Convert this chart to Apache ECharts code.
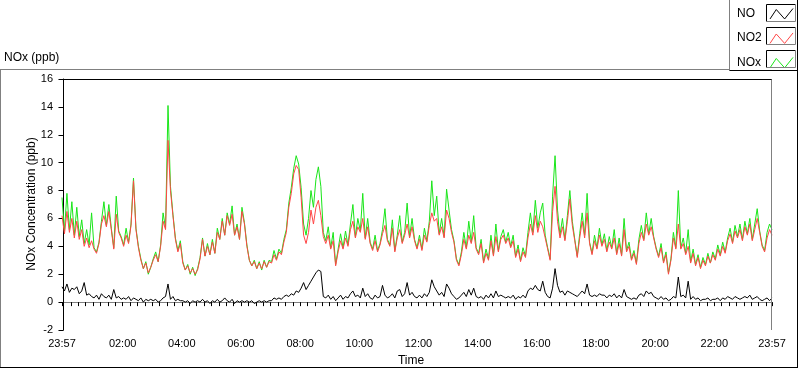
<!DOCTYPE html>
<html><head><meta charset="utf-8">
<script src="https://cdn.jsdelivr.net/npm/echarts@6/dist/echarts.min.js"></script>
<style>html,body{margin:0;padding:0;background:#fff}#c{width:800px;height:369px}</style>
</head><body><div id="c"></div>
<script>
// Time axis: minutes relative to midnight; first sample at 23:57 of previous day
const startMinute = -3;
const stepMinutes = 5;
const axisMin = -3, axisMax = 1437;
const labelMinutes = [-3, 120, 240, 360, 480, 600, 720, 840, 960, 1080, 1200, 1320, 1437];
const seriesNames = ['NO', 'NO2', 'NOx'];
const yAxisTitle = 'NOx Concentration (ppb)';
const xAxisTitle = 'Time';

const no = [
 1.1,0.8,1.3,0.7,1.0,0.9,1.1,0.6,0.8,1.4,0.5,0.6,0.4,
 0.3,0.5,0.2,0.6,0.4,0.3,0.5,0.2,0.9,0.3,0.4,0.2,
 0.3,0.2,0.4,0.1,0.3,0.2,0.1,0.3,0.0,0.2,0.1,0.2,
 0.1,0.2,0.0,0.1,0.3,0.4,1.3,0.2,0.4,0.1,0.2,0.1,
 0.1,0.0,0.1,-0.1,0.1,0.0,0.1,0.0,0.2,0.0,0.1,-0.1,
 0.1,0.0,0.2,0.0,0.1,0.3,0.1,0.0,0.2,-0.1,0.1,0.0,
 0.1,0.0,0.1,0.0,0.1,-0.1,0.0,0.1,0.0,0.1,0.0,0.1,
 0.1,0.3,0.2,0.3,0.2,0.4,0.5,0.4,0.6,0.5,0.8,0.7,
 1.0,1.4,0.9,1.2,1.5,1.8,2.1,2.3,2.2,0.4,0.3,0.5,
 0.2,0.4,0.1,0.3,0.5,0.2,0.4,0.3,0.6,0.8,0.4,0.5,
 0.3,1.0,0.4,0.6,0.3,0.2,0.5,0.3,0.4,1.2,0.5,0.3,
 0.4,0.6,0.3,0.8,0.9,0.4,0.6,1.4,0.5,0.7,0.4,0.3,
 0.5,0.3,0.6,0.4,0.7,1.6,1.1,0.8,0.5,0.7,0.4,1.3,
 1.0,0.6,0.4,0.2,0.3,0.5,0.7,0.4,0.9,0.5,1.0,0.4,
 0.3,0.4,0.2,0.5,0.3,0.6,0.3,0.8,0.4,0.5,0.4,0.3,
 0.4,0.3,0.5,0.2,0.4,0.3,0.5,0.3,0.8,1.0,0.9,1.2,
 0.9,0.8,1.5,0.7,0.4,0.3,1.0,2.4,1.2,0.7,0.8,0.5,
 0.8,0.7,0.6,0.5,0.4,0.6,0.8,0.6,1.3,0.5,0.4,0.5,
 0.4,0.6,0.5,0.5,0.3,0.5,0.4,0.6,0.3,0.5,0.3,0.9,
 0.4,0.3,0.2,0.3,0.2,0.5,0.6,0.4,0.8,0.6,0.7,0.4,
 0.3,0.2,0.4,0.2,0.3,0.1,0.2,0.4,0.3,1.8,0.4,0.5,
 0.3,1.5,0.2,0.4,0.2,0.3,0.1,0.2,0.2,0.3,0.1,0.2,
 0.2,0.3,0.1,0.3,0.2,0.4,0.3,0.2,0.4,0.3,0.2,0.3,
 0.4,0.3,0.5,0.2,0.3,0.4,0.2,0.1,0.2,0.3,0.1,0.3
];

const no2 = [
 6.2,4.9,6.5,5.0,6.0,4.6,5.8,4.5,5.2,4.0,4.6,3.9,4.4,
 3.8,3.5,4.2,5.6,6.2,5.4,6.5,5.2,3.8,6.3,5.0,4.6,
 4.0,4.8,4.2,5.5,8.7,5.2,3.9,3.0,2.4,2.8,2.1,2.5,
 3.0,3.4,2.9,4.0,5.8,5.2,11.6,8.0,6.2,4.5,3.6,4.2,
 2.8,2.3,2.6,2.1,2.4,2.0,2.3,3.1,4.5,3.3,4.0,3.4,
 4.3,3.5,5.0,4.5,5.8,4.8,6.2,5.5,6.3,4.8,5.4,4.5,
 6.5,5.6,4.0,3.0,2.6,2.9,2.4,2.8,2.4,2.9,2.5,2.9,
 2.8,3.4,3.0,3.6,3.4,4.3,5.0,6.8,7.8,9.2,9.8,9.5,
 7.5,4.8,4.2,5.0,6.6,5.6,6.8,7.3,6.2,4.7,4.2,4.8,
 3.8,4.4,2.6,3.6,4.4,3.8,4.6,4.0,5.2,5.8,4.6,5.4,
 5.0,6.0,4.5,5.4,4.2,3.7,4.4,3.6,4.1,4.9,5.5,4.4,
 4.0,5.3,3.6,4.6,5.2,4.2,4.8,5.6,4.6,5.4,4.4,3.8,
 4.5,3.7,4.8,4.3,5.5,6.4,5.8,6.0,4.8,5.4,4.6,6.6,
 6.0,5.0,4.3,3.0,2.6,3.4,4.5,3.8,4.8,4.2,5.0,3.8,
 3.4,4.2,2.8,3.5,3.0,4.4,3.3,4.7,3.6,4.5,4.8,4.2,
 4.6,3.9,4.4,3.2,3.8,2.9,3.6,3.2,4.6,5.6,4.8,6.2,
 5.0,5.8,5.4,4.6,3.8,3.0,6.5,8.3,5.8,4.6,5.4,4.4,
 5.8,7.4,5.5,4.4,3.2,4.6,5.8,4.6,6.4,4.2,3.4,4.4,
 3.8,4.8,4.0,4.5,3.6,4.3,3.8,4.6,3.4,4.2,3.3,5.2,
 3.6,4.0,3.0,3.5,2.7,4.2,5.0,4.4,5.6,4.8,5.4,4.6,
 3.8,3.2,3.9,2.8,3.4,2.0,3.0,4.6,3.8,5.6,3.8,4.2,
 3.4,4.0,2.8,3.5,2.6,3.2,2.4,3.0,2.6,3.3,2.8,3.4,
 3.0,3.8,3.3,4.0,3.5,4.4,4.9,4.2,5.1,4.6,5.2,4.4,
 5.4,4.8,5.6,4.4,5.2,6.0,5.0,4.0,3.6,4.6,5.2,4.8
];

const nox = [
 7.5,5.1,7.8,5.2,7.2,4.8,6.8,4.7,5.9,4.2,5.2,4.1,6.4,
 3.9,3.6,4.3,5.8,7.2,5.5,7.0,5.3,3.9,7.6,5.1,4.7,
 4.1,5.3,4.3,5.6,8.9,5.3,4.0,3.1,2.4,2.9,2.0,2.5,
 3.1,3.6,2.9,4.1,6.4,5.3,14.1,8.3,6.3,4.6,3.7,4.4,
 2.9,2.3,2.7,2.0,2.5,1.9,2.4,3.2,4.6,3.3,4.2,3.4,
 4.5,3.5,5.3,4.5,6.0,4.8,6.4,5.6,6.9,4.8,5.6,4.5,
 6.8,5.7,4.1,3.0,2.6,3.0,2.4,2.9,2.3,3.0,2.5,3.0,
 2.9,3.7,3.1,3.8,3.5,4.5,5.2,7.1,8.2,9.6,10.5,9.9,
 8.2,5.6,4.8,6.0,8.0,6.8,8.8,9.7,8.3,5.0,4.4,5.4,
 3.9,5.0,2.7,3.8,4.9,3.9,5.1,4.1,5.6,7.0,4.7,6.0,
 5.1,7.8,4.6,6.0,4.3,3.8,4.8,3.7,4.2,5.2,6.7,4.5,
 4.1,5.9,3.7,4.8,6.2,4.3,5.0,7.1,4.7,6.0,4.5,3.9,
 4.8,3.8,5.3,4.4,5.8,8.7,6.2,7.6,4.9,6.0,4.7,8.1,
 6.6,5.2,4.4,3.1,2.7,3.6,5.0,3.9,5.8,4.3,6.2,3.9,
 3.5,4.5,2.9,3.8,3.1,4.8,3.4,5.6,3.7,4.7,5.2,4.3,
 5.0,4.0,4.8,3.3,4.1,3.0,3.9,3.3,5.0,6.4,5.0,7.3,
 5.3,6.4,7.1,4.8,3.9,3.1,7.6,10.5,6.6,4.8,6.0,4.5,
 6.2,8.0,5.8,4.5,3.3,4.9,6.4,4.8,7.8,4.3,3.5,4.8,
 3.9,5.3,4.1,4.9,3.7,4.7,3.9,5.2,3.5,4.6,3.4,6.0,
 3.7,4.3,3.1,3.7,2.8,4.5,5.5,4.5,6.4,4.9,6.0,4.7,
 3.9,3.3,4.2,2.9,3.6,2.1,3.1,5.0,3.9,8.0,3.9,4.6,
 3.5,5.2,2.9,3.8,2.7,3.4,2.5,3.2,2.7,3.5,2.8,3.6,
 3.1,4.1,3.4,4.3,3.6,4.6,5.3,4.3,5.5,4.7,5.6,4.5,
 5.8,4.9,6.0,4.5,5.6,6.7,5.1,4.1,3.7,5.0,5.6,5.2
];

const FONT = '"Liberation Sans", Arial, sans-serif';
function toPairs(arr) { return arr.map((v, i) => [startMinute + i * stepMinutes, v]); }
function fmtTime(v) {
  const m = ((Math.round(v) % 1440) + 1440) % 1440;
  const h = Math.floor(m / 60), mm = m % 60;
  return String(h).padStart(2, '0') + ':' + String(mm).padStart(2, '0');
}
// minor tick positions: start, every 15 minutes, end
const tickMinutes = [axisMin];
for (let t = 0; t <= axisMax; t += 15) tickMinutes.push(t);
tickMinutes.push(axisMax);

const graphics = [];
function ln(x1, y1, x2, y2, c) {
  graphics.push({ type: 'line', silent: true, z: 100, shape: { x1, y1, x2, y2 }, style: { stroke: c, lineWidth: 1 } });
}
// outer panel frame
ln(0, 69.5, 730, 69.5, '#808080');
ln(0.5, 69.5, 0.5, 368, '#808080');
ln(0, 367.5, 798, 367.5, '#000');
ln(797.5, 0, 797.5, 368, '#000');
// legend panel
ln(729.5, 0, 729.5, 70.5, '#808080');
ln(729.5, 70.5, 798, 70.5, '#000');
// plot frame top / right
ln(62, 79.5, 772, 79.5, '#000');
ln(771.5, 79.5, 771.5, 330, '#808080');
// legend icon boxes
[13, 36, 59].forEach(c => {
  graphics.push({ type: 'polyline', silent: true, z: 100, shape: { points: [[766.5, c + 8.5], [766.5, c - 8.5], [795.5, c - 8.5]] }, style: { stroke: '#000', fill: null, lineWidth: 1 } });
  graphics.push({ type: 'polyline', silent: true, z: 100, shape: { points: [[795.5, c - 8.5], [795.5, c + 8.5], [766.5, c + 8.5]] }, style: { stroke: '#808080', fill: null, lineWidth: 1 } });
});
// axis titles
graphics.push({ type: 'text', silent: true, z: 100, x: 32, y: 204, rotation: Math.PI / 2,
  style: { text: yAxisTitle, font: '12px ' + FONT, fill: '#000', align: 'center', verticalAlign: 'middle' } });
graphics.push({ type: 'text', silent: true, z: 100, x: 411, y: 361,
  style: { text: xAxisTitle, font: '12px ' + FONT, fill: '#000', align: 'center', verticalAlign: 'middle' } });

const colors = { NO: '#000000', NO2: '#ff4646', NOx: '#19e619' };
const chart = echarts.init(document.getElementById('c'), null, { renderer: 'canvas' });
chart.setOption({
  animation: false,
  backgroundColor: '#fff',
  title: { text: 'NOx (ppb)', left: 4, top: 52, padding: 0, textStyle: { fontFamily: FONT, fontSize: 12, fontWeight: 'normal', color: '#000' } },
  legend: {
    orient: 'vertical', left: 737, top: 6, padding: 0, align: 'right',
    itemWidth: 23, itemHeight: 11, itemGap: 9,
    icon: 'path://M0,10L6,1L14,10L22,0',
    data: seriesNames.map(n => ({ name: n, itemStyle: { color: 'none', borderColor: colors[n], borderWidth: 1 } })),
    formatter: n => '{a|' + n + '}',
    textStyle: { fontFamily: FONT, rich: { a: { width: 28, align: 'left', fontSize: 12, lineHeight: 14, color: '#000', fontFamily: FONT } } }
  },
  grid: { left: 62, top: 79, width: 710, height: 251, containLabel: false, outerBoundsMode: 'none' },
  xAxis: {
    type: 'value', min: axisMin, max: axisMax,
    axisLine: { show: true, lineStyle: { color: '#808080', width: 1 } },
    axisTick: { show: true, length: 4, customValues: tickMinutes, lineStyle: { color: '#000' } },
    axisLabel: { customValues: labelMinutes, formatter: fmtTime, margin: 8, fontFamily: FONT, fontSize: 11, color: '#000', hideOverlap: false, showMinLabel: true, showMaxLabel: true },
    splitLine: { show: false }
  },
  yAxis: {
    type: 'value', min: -2, max: 16, interval: 2,
    axisLine: { show: true, lineStyle: { color: '#000', width: 1 } },
    axisTick: { show: true, length: 5, lineStyle: { color: '#000' } },
    axisLabel: { margin: 9, fontFamily: FONT, fontSize: 11, color: '#000' },
    splitLine: { show: false }
  },
  series: [
    { name: 'NOx', type: 'line', data: toPairs(nox), symbol: 'none', lineStyle: { color: colors.NOx, width: 1 }, itemStyle: { color: colors.NOx }, z: 2 },
    { name: 'NO2', type: 'line', data: toPairs(no2), symbol: 'none', lineStyle: { color: colors.NO2, width: 1 }, itemStyle: { color: colors.NO2 }, z: 3 },
    { name: 'NO', type: 'line', data: toPairs(no), symbol: 'none', lineStyle: { color: colors.NO, width: 1 }, itemStyle: { color: colors.NO }, z: 4 }
  ],
  graphic: graphics
});
</script>
</body></html>
